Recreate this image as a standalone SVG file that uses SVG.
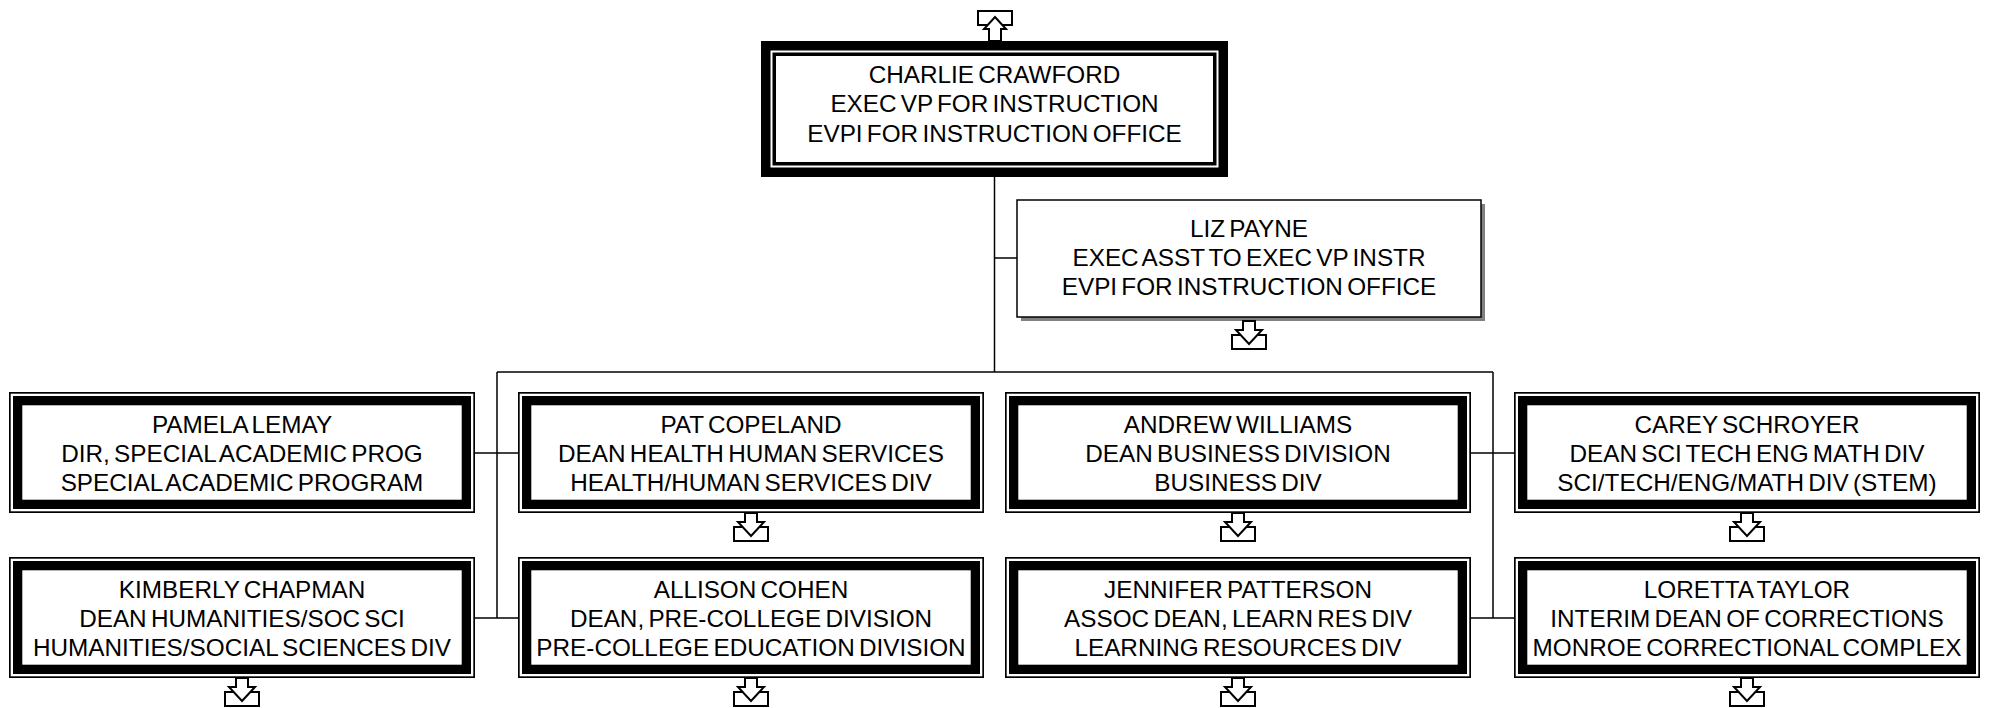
<svg xmlns="http://www.w3.org/2000/svg" width="1989" height="708" viewBox="0 0 1989 708">
<style>
.bk{fill:#000}
.wh{fill:#fff}
.conn{stroke:#000;stroke-width:1.5;fill:none}
.t{font-family:"Liberation Sans",Arial,sans-serif;font-size:24.3px;text-anchor:middle;fill:#000;word-spacing:-2.5px}
.ic{fill:#fff;stroke:#000;stroke-width:2}
</style>
<defs>
<g id="down">
<rect class="ic" x="-17" y="14" width="34" height="14"/>
<polygon class="ic" points="-6,0 6,0 6,9 13,9 0,23 -13,9 -6,9"/>
</g>
<g id="up">
<rect class="ic" x="-17" y="-30" width="34" height="14"/>
<polygon class="ic" points="0,-24 11,-12 6,-12 6,0 -6,0 -6,-12 -11,-12"/>
</g>
</defs>
<rect width="1989" height="708" fill="#fff"/>
<g id="connectors">
<line class="conn" x1="994.5" y1="177" x2="994.5" y2="372"/>
<line class="conn" x1="994.5" y1="258" x2="1017" y2="258"/>
<line class="conn" x1="497" y1="372" x2="1493" y2="372"/>
<line class="conn" x1="497" y1="372" x2="497" y2="618"/>
<line class="conn" x1="1493" y1="372" x2="1493" y2="618"/>
<line class="conn" x1="475" y1="453" x2="518" y2="453"/>
<line class="conn" x1="475" y1="618" x2="518" y2="618"/>
<line class="conn" x1="1471" y1="453" x2="1514" y2="453"/>
<line class="conn" x1="1471" y1="618" x2="1514" y2="618"/>
</g>
<g id="n-crawford">
<use href="#up" x="995" y="41"/>
<rect class="bk" x="761" y="41" width="467" height="136"/>
<rect class="wh" x="770.5" y="50.5" width="448" height="117"/>
<rect class="bk" x="772.5" y="52.5" width="444" height="113"/>
<rect class="wh" x="776" y="56" width="437" height="106"/>
<text class="t" x="994.5" y="82.5">CHARLIE CRAWFORD</text>
<text class="t" x="994.5" y="112">EXEC VP FOR INSTRUCTION</text>
<text class="t" x="994.5" y="141.5">EVPI FOR INSTRUCTION OFFICE</text>
</g>
<g id="n-payne">
<rect x="1021" y="204" width="464" height="117" fill="#808080"/>
<rect x="1017" y="200" width="464" height="117" fill="#fff" stroke="#000" stroke-width="1.5"/>
<text class="t" x="1249" y="236.5">LIZ PAYNE</text>
<text class="t" x="1249" y="265.5">EXEC ASST TO EXEC VP INSTR</text>
<text class="t" x="1249" y="294.5">EVPI FOR INSTRUCTION OFFICE</text>
<use href="#down" x="1249" y="321"/>
</g>
<g id="n-lemay">
<rect class="bk" x="9" y="392" width="466" height="121"/>
<rect class="wh" x="10.7" y="393.7" width="462.6" height="117.6"/>
<rect class="bk" x="13" y="396" width="458" height="113"/>
<rect class="wh" x="22.3" y="405.3" width="439.4" height="94.4"/>
<text class="t" x="242" y="432.5">PAMELA LEMAY</text>
<text class="t" x="242" y="461.5">DIR, SPECIAL ACADEMIC PROG</text>
<text class="t" x="242" y="490.5">SPECIAL ACADEMIC PROGRAM</text>
</g>
<g id="n-copeland">
<rect class="bk" x="518" y="392" width="466" height="121"/>
<rect class="wh" x="519.7" y="393.7" width="462.6" height="117.6"/>
<rect class="bk" x="522" y="396" width="458" height="113"/>
<rect class="wh" x="531.3" y="405.3" width="439.4" height="94.4"/>
<text class="t" x="751" y="432.5">PAT COPELAND</text>
<text class="t" x="751" y="461.5">DEAN HEALTH HUMAN SERVICES</text>
<text class="t" x="751" y="490.5">HEALTH/HUMAN SERVICES DIV</text>
<use href="#down" x="751" y="513"/>
</g>
<g id="n-williams">
<rect class="bk" x="1005" y="392" width="466" height="121"/>
<rect class="wh" x="1006.7" y="393.7" width="462.6" height="117.6"/>
<rect class="bk" x="1009" y="396" width="458" height="113"/>
<rect class="wh" x="1018.3" y="405.3" width="439.4" height="94.4"/>
<text class="t" x="1238" y="432.5">ANDREW WILLIAMS</text>
<text class="t" x="1238" y="461.5">DEAN BUSINESS DIVISION</text>
<text class="t" x="1238" y="490.5">BUSINESS DIV</text>
<use href="#down" x="1238" y="513"/>
</g>
<g id="n-schroyer">
<rect class="bk" x="1514" y="392" width="466" height="121"/>
<rect class="wh" x="1515.7" y="393.7" width="462.6" height="117.6"/>
<rect class="bk" x="1518" y="396" width="458" height="113"/>
<rect class="wh" x="1527.3" y="405.3" width="439.4" height="94.4"/>
<text class="t" x="1747" y="432.5">CAREY SCHROYER</text>
<text class="t" x="1747" y="461.5">DEAN SCI TECH ENG MATH DIV</text>
<text class="t" x="1747" y="490.5">SCI/TECH/ENG/MATH DIV (STEM)</text>
<use href="#down" x="1747" y="513"/>
</g>
<g id="n-chapman">
<rect class="bk" x="9" y="557" width="466" height="121"/>
<rect class="wh" x="10.7" y="558.7" width="462.6" height="117.6"/>
<rect class="bk" x="13" y="561" width="458" height="113"/>
<rect class="wh" x="22.3" y="570.3" width="439.4" height="94.4"/>
<text class="t" x="242" y="597.5">KIMBERLY CHAPMAN</text>
<text class="t" x="242" y="626.5">DEAN HUMANITIES/SOC SCI</text>
<text class="t" x="242" y="655.5">HUMANITIES/SOCIAL SCIENCES DIV</text>
<use href="#down" x="242" y="678"/>
</g>
<g id="n-cohen">
<rect class="bk" x="518" y="557" width="466" height="121"/>
<rect class="wh" x="519.7" y="558.7" width="462.6" height="117.6"/>
<rect class="bk" x="522" y="561" width="458" height="113"/>
<rect class="wh" x="531.3" y="570.3" width="439.4" height="94.4"/>
<text class="t" x="751" y="597.5">ALLISON COHEN</text>
<text class="t" x="751" y="626.5">DEAN, PRE-COLLEGE DIVISION</text>
<text class="t" x="751" y="655.5">PRE-COLLEGE EDUCATION DIVISION</text>
<use href="#down" x="751" y="678"/>
</g>
<g id="n-patterson">
<rect class="bk" x="1005" y="557" width="466" height="121"/>
<rect class="wh" x="1006.7" y="558.7" width="462.6" height="117.6"/>
<rect class="bk" x="1009" y="561" width="458" height="113"/>
<rect class="wh" x="1018.3" y="570.3" width="439.4" height="94.4"/>
<text class="t" x="1238" y="597.5">JENNIFER PATTERSON</text>
<text class="t" x="1238" y="626.5">ASSOC DEAN, LEARN RES DIV</text>
<text class="t" x="1238" y="655.5">LEARNING RESOURCES DIV</text>
<use href="#down" x="1238" y="678"/>
</g>
<g id="n-taylor">
<rect class="bk" x="1514" y="557" width="466" height="121"/>
<rect class="wh" x="1515.7" y="558.7" width="462.6" height="117.6"/>
<rect class="bk" x="1518" y="561" width="458" height="113"/>
<rect class="wh" x="1527.3" y="570.3" width="439.4" height="94.4"/>
<text class="t" x="1747" y="597.5">LORETTA TAYLOR</text>
<text class="t" x="1747" y="626.5">INTERIM DEAN OF CORRECTIONS</text>
<text class="t" x="1747" y="655.5">MONROE CORRECTIONAL COMPLEX</text>
<use href="#down" x="1747" y="678"/>
</g>
</svg>
